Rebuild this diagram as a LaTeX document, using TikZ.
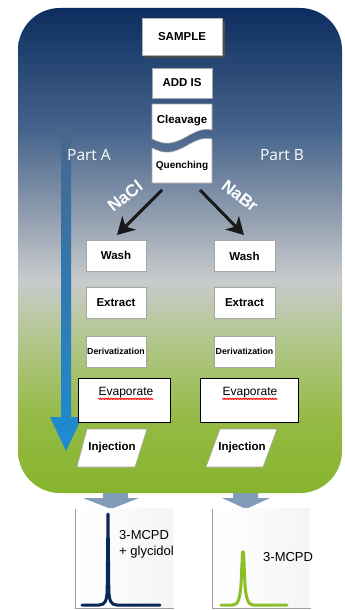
\documentclass[tikz,border=0pt]{standalone}
\usepackage{fontspec}
\setmainfont{Liberation Sans}
\newfontfamily\partfont{Open Sans}
\usetikzlibrary{arrows.meta,decorations.pathmorphing}
\definecolor{bgnavy}{RGB}{12,45,95}
\definecolor{bgblue}{RGB}{70,100,140}
\definecolor{bgslate}{RGB}{150,162,178}
\definecolor{bggray}{RGB}{200,203,205}
\definecolor{bgsage}{RGB}{178,198,140}
\definecolor{bglime}{RGB}{148,186,68}
\definecolor{bggreen}{RGB}{135,180,45}
\definecolor{arrtop}{RGB}{72,102,140}
\definecolor{arrbot}{RGB}{28,140,212}
\definecolor{steel}{RGB}{130,155,185}
\definecolor{peaknavy}{RGB}{10,40,85}
\definecolor{peakgreen}{RGB}{140,190,40}
\pgfdeclareverticalshading{bgshade}{100bp}{color(0bp)=(bggreen); color(25bp)=(bggreen); color(32.5bp)=(bglime); color(40.8bp)=(bgsage); color(47bp)=(bggray); color(53bp)=(bgslate); color(62.4bp)=(bgblue); color(75bp)=(bgnavy); color(100bp)=(bgnavy)}
\tikzset{
  box/.style={draw=gray!70, fill=white, line width=0.6pt, inner sep=0pt, font=\bfseries\fontsize{11.5}{12}\selectfont},
  evbox/.style={draw=black, fill=white, line width=1pt, inner sep=0pt},
  btxt/.style={inner sep=0pt, font=\bfseries\fontsize{11.5}{12}\selectfont},
  evtxt/.style={inner sep=0pt, font=\fontsize{12}{12}\selectfont},
  salt/.style={white, inner sep=0pt, font=\bfseries\fontsize{17}{17}\selectfont},
  parttxt/.style={white, inner sep=0pt, font=\partfont\fontsize{15.5}{15.5}\selectfont},
  blk/.style={line width=3pt, black!90, -{Stealth[length=17pt, width=19pt, inset=5pt]}},
  spell/.style={red, line width=0.6pt, decorate, decoration={zigzag, segment length=1.6pt, amplitude=0.7pt}},
  axis/.style={gray!75, line width=1pt},
  peak/.style={line width=3pt, line cap=round, line join=round},
  chrtxt/.style={inner sep=0pt, align=left, font=\fontsize{13}{16}\selectfont},
  para/.style={draw=gray!70, fill=white, line width=0.6pt}
}
\begin{document}
\begin{tikzpicture}[x=1pt,y=-1pt]
\useasboundingbox (0,0) rectangle (345,610);
% gray arrows below the box
\fill[steel] (103,480) -- (128,480) -- (128,498) -- (139,498) -- (111,509) -- (83,498) -- (103,498) -- cycle;
\fill[steel] (233,480) -- (258,480) -- (258,498) -- (270,498) -- (246,509) -- (222,498) -- (233,498) -- cycle;
% background
\shade[shading=bgshade, rounded corners=42pt] (18,8) rectangle (342,493);
% blue process arrow
\shade[top color=arrtop, bottom color=arrbot] (61,125) -- (71,125) -- (71,417) -- (82,417) -- (66,451) -- (50,417) -- (61,417) -- cycle;
% SAMPLE with shadow
\fill[black!70] (145,21) rectangle (225,58);
\node[box, draw=gray!60, minimum width=80, minimum height=37] (sample) at (182,36.5) {SAMPLE};
\node[box, minimum width=60, minimum height=30] (addis) at (182,83) {ADD IS};
% cleavage / quenching
\path[fill=white, draw=gray!70, line width=0.6pt] (152,104) -- (212,104) -- (212,130)
  .. controls (196,126) and (186,141) .. (170,143) .. controls (162,144) and (157,141) .. (152,139) -- cycle;
\path[fill=white, draw=gray!70, line width=0.6pt] (152,148) .. controls (157,150) and (162,153) .. (170,152)
  .. controls (186,150) and (196,135) .. (212,139) -- (212,183) -- (152,183) -- cycle;
\node[btxt] (cleav) at (182,121) {Cleavage};
\node[btxt, font=\bfseries\fontsize{10}{12}\selectfont] (quench) at (182,166) {Quenching};
% part labels
\node[parttxt] (pA) at (89,155) {Part A};
\node[parttxt] (pB) at (282,155) {Part B};
% branch arrows
\coordinate (qA) at (162,190);
\coordinate (qB) at (200,190);
\coordinate (tA) at (117,235);
\coordinate (tB) at (244,235);
\draw[blk] (qA) -- (tA);
\draw[blk] (qB) -- (tB);
\node[salt, rotate=38] (nacl) at (125,196) {NaCl};
\node[salt, rotate=-38] (nabr) at (240,196) {NaBr};
% left column
\node[box, minimum width=60, minimum height=31] (washA) at (116,255.5) {Wash};
\node[box, minimum width=60, minimum height=31] (extA) at (116,302.5) {Extract};
\node[box, minimum width=60, minimum height=31, font=\bfseries\fontsize{8.8}{10}\selectfont] (derA) at (116,351.5) {Derivatization};
\node[evbox, minimum width=92, minimum height=44] (evA) at (124,400) {};
\node[evtxt] (evAt) at (126,393) {Evaporate};
\draw[spell] ([yshift=-3pt]evAt.base west) -- ([yshift=-3pt]evAt.base east);
% right column
\node[box, minimum width=61, minimum height=31] (washB) at (244.5,256) {Wash};
\node[box, minimum width=61, minimum height=31] (extB) at (244.5,302.5) {Extract};
\node[box, minimum width=61, minimum height=31, font=\bfseries\fontsize{8.8}{10}\selectfont] (derB) at (244.5,351.5) {Derivatization};
\node[evbox, minimum width=98, minimum height=44] (evB) at (249,400) {};
\node[evtxt] (evBt) at (250,393) {Evaporate};
\draw[spell] ([yshift=-3pt]evBt.base west) -- ([yshift=-3pt]evBt.base east);
% injection
\path[para] (87,429) -- (147,429) -- (135,467) -- (77,467) -- cycle;
\node[btxt] (injA) at (112,448) {Injection};
\path[para] (220,429) -- (277,429) -- (263,467) -- (206,467) -- cycle;
\node[btxt] (injB) at (242,448) {Injection};
% chromatograms
\shade[left color=white, right color=gray!8] (75,508) rectangle (173,608);
\shade[left color=white, right color=gray!8] (212,508) rectangle (310,608);
\draw[axis] (75,509) -- (75,608) -- (174,608);
\draw[axis] (212,509) -- (212,608) -- (311,608);
\draw[peak, peaknavy] (82,605) -- (99,605) .. controls (105,605) and (106.8,601) .. (107.2,590) -- (108,514) -- (108.8,590) .. controls (109.2,601) and (111,605) .. (117,605) -- (160,605);
\draw[peak, peakgreen] (221,605) -- (233,605) .. controls (238,605) and (240,598) .. (241,585) -- (242.5,552) -- (243.5,552) -- (245,585) .. controls (246,598) and (248,605) .. (253,605) -- (287,605);
\node[chrtxt, anchor=west] (mcpdA) at (119,544) {3-MCPD\\+ glycidol};
\node[chrtxt, anchor=west] (mcpdB) at (263,557) {3-MCPD};
\end{tikzpicture}
\end{document}
